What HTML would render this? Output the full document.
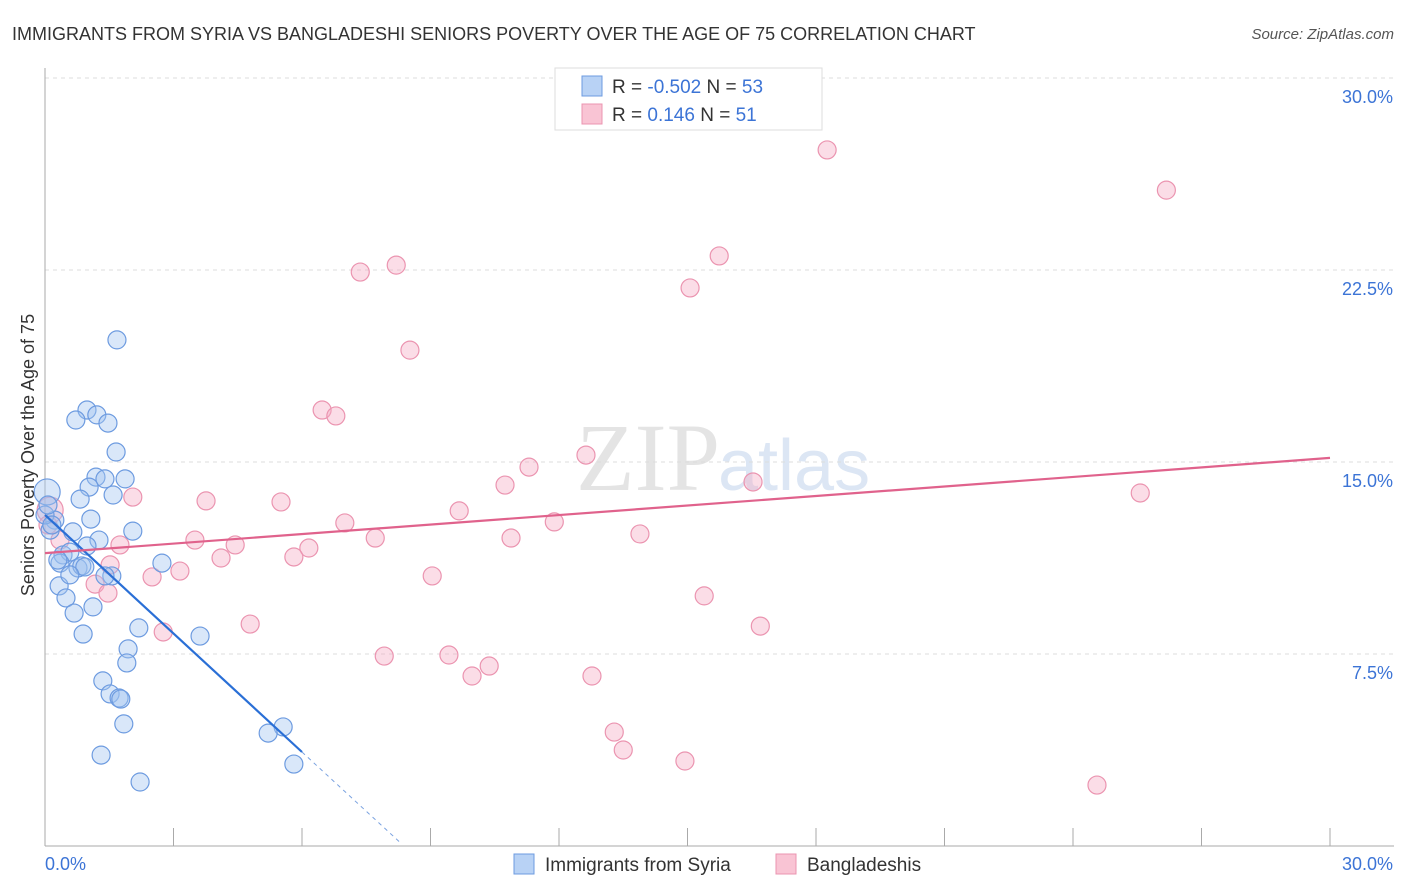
<!DOCTYPE html>
<html><head><meta charset="utf-8"><style>
body{margin:0;background:#fff;font-family:"Liberation Sans",sans-serif;}
svg{display:block}
</style></head><body>
<svg id="chart" width="1406" height="892">
<text x="12" y="40" font-size="18" fill="#333">IMMIGRANTS FROM SYRIA VS BANGLADESHI SENIORS POVERTY OVER THE AGE OF 75 CORRELATION CHART</text>
<text x="1394" y="39" font-size="15" fill="#555" text-anchor="end" font-style="italic">Source: ZipAtlas.com</text>
<text x="720" y="490" font-size="96" fill="#e4e4e4" text-anchor="end" font-family="Liberation Serif,serif">ZIP</text>
<text x="718" y="490" font-size="72" fill="#dce6f4">atlas</text>
<g id="grid"></g><g id="axes"></g><g id="marks"></g>
<text transform="translate(34,455) rotate(-90)" font-size="18" fill="#333" text-anchor="middle">Seniors Poverty Over the Age of 75</text>
<g>
<rect x="555" y="68" width="267" height="62" fill="#fff" stroke="#ddd"/>
<rect x="582" y="76" width="20" height="20" fill="#b8d2f5" stroke="#6d9be0"/>
<rect x="582" y="104" width="20" height="20" fill="#f9c4d4" stroke="#eb94b0"/>
<text x="612" y="93" font-size="19" fill="#333">R = <tspan fill="#3c74d6">-0.502</tspan>   N = <tspan fill="#3c74d6">53</tspan></text>
<text x="612" y="121" font-size="19" fill="#333">R =   <tspan fill="#3c74d6">0.146</tspan>   N =  <tspan fill="#3c74d6">51</tspan></text>
</g>
<g>
<rect x="514" y="854" width="20" height="20" fill="#b8d2f5" stroke="#6d9be0"/>
<text x="545" y="871" font-size="19" fill="#333">Immigrants from Syria</text>
<rect x="776" y="854" width="20" height="20" fill="#f9c4d4" stroke="#eb94b0"/>
<text x="807" y="871" font-size="19" fill="#333">Bangladeshis</text>
</g>
</svg>
<script>
const yTicks=[7.5,15,22.5,30];
const yTickLabels=["7.5%","15.0%","22.5%","30.0%"];
const xTickLabels=["0.0%","30.0%"];
const syriaX=[1.68,0.98,0.72,1.21,1.47,1.66,1.19,1.87,1.40,1.03,0.82,1.59,0.05,1.07,2.05,0.23,0.12,0.65,1.26,0.98,0.42,0.58,0.35,0.77,0.86,1.56,1.40,2.73,0.33,0.49,1.12,0.68,0.89,2.19,3.62,1.94,1.91,1.35,1.52,1.73,1.77,1.84,5.56,5.21,1.31,5.81,2.22,0.0,0.16,0.07,0.30,0.93,0.58];
const syriaY=[19.77,17.03,16.64,16.84,16.52,15.39,14.41,14.34,14.34,14.02,13.55,13.71,13.83,12.77,12.30,12.73,12.34,12.27,11.95,11.72,11.37,11.48,11.05,10.86,10.94,10.55,10.55,11.05,10.16,9.69,9.34,9.10,8.28,8.52,8.20,7.70,7.15,6.45,5.94,5.78,5.74,4.77,4.65,4.41,3.55,3.20,2.50,12.93,12.54,13.32,11.17,10.90,10.59];
const bangX=[18.26,26.18,15.74,8.20,7.36,15.06,8.52,6.47,6.79,12.63,11.30,10.74,16.53,25.57,2.05,3.76,5.51,9.67,7.00,11.89,7.71,10.88,13.89,3.50,4.44,1.75,6.16,5.81,4.11,9.04,3.15,2.50,1.17,1.47,15.39,16.70,4.79,2.76,7.92,9.43,10.37,9.97,12.77,13.29,13.50,14.94,24.56,0.12,0.07,1.52,0.35];
const bangY=[27.19,25.62,23.05,22.69,22.42,21.80,19.37,17.03,16.80,15.27,14.80,14.10,14.22,13.79,13.63,13.48,13.44,13.09,12.62,12.66,12.03,12.03,12.19,11.95,11.76,11.76,11.64,11.29,11.25,10.55,10.74,10.51,10.23,9.88,9.77,8.59,8.67,8.36,7.42,7.46,7.03,6.64,6.64,4.45,3.75,3.32,2.38,13.12,12.54,10.98,11.95];
const syriaTrend=[12.93,-1.543]; // intercept, slope
const bangTrend=[11.44,0.124];
const syriaSolidEnd=6.0, syriaDashEnd=8.29;

const NS="http://www.w3.org/2000/svg";
const X=v=>45+v/30*1285, Y=v=>846-v/30*768;
function mk(tag,attrs,parent){const e=document.createElementNS(NS,tag);for(const k in attrs)e.setAttribute(k,attrs[k]);parent.appendChild(e);return e;}
const grid=document.getElementById('grid'),axes=document.getElementById('axes'),marks=document.getElementById('marks');
yTicks.forEach((t,i)=>{
 const l=mk('line',{x1:45,x2:1394,y1:Y(t),y2:Y(t),stroke:'#ddd','stroke-dasharray':'4,4'},grid);
 
 
 const tx=mk('text',{x:1393,y:Y(t)+25,'font-size':18,fill:'#3c74d6','text-anchor':'end'},axes);
 tx.textContent=yTickLabels[i];
 
 
});
mk('line',{x1:45,x2:45,y1:68,y2:846,stroke:'#aaa'},axes);
mk('line',{x1:45,x2:1394,y1:846,y2:846,stroke:'#aaa'},axes);
for(let i=0;i<=10;i++){const t=mk('line',{x1:X(i*3),x2:X(i*3),y1:828,y2:846,stroke:'#aaa'},axes);
 
 }
const xl0=mk('text',{x:45,y:870,'font-size':18,fill:'#3c74d6'},axes);xl0.textContent=xTickLabels[0];


const xl1=mk('text',{x:1393,y:870,'font-size':18,fill:'#3c74d6','text-anchor':'end'},axes);xl1.textContent=xTickLabels[1];


bangX.forEach((v,i)=>{const c=mk('circle',{cx:X(v),cy:Y(bangY[i]),r:(i==47?13:9),fill:'rgba(245,170,195,0.4)',stroke:'#eb94b0','stroke-width':1.2},marks);
 
 });
syriaX.forEach((v,i)=>{const c=mk('circle',{cx:X(v),cy:Y(syriaY[i]),r:(i==12?13:9),fill:'rgba(160,195,240,0.4)',stroke:'#6d9be0','stroke-width':1.2},marks);
 
 });
const f=(t,x)=>t[0]+t[1]*x;
const sl=mk('line',{x1:X(0),y1:Y(f(syriaTrend,0)),x2:X(syriaSolidEnd),y2:Y(f(syriaTrend,syriaSolidEnd)),stroke:'#2a6fd6','stroke-width':2.2},marks);


const sd=mk('line',{x1:X(syriaSolidEnd),y1:Y(f(syriaTrend,syriaSolidEnd)),x2:X(syriaDashEnd),y2:Y(f(syriaTrend,syriaDashEnd)),stroke:'#7aa2e0','stroke-width':1,'stroke-dasharray':'4,4'},marks);


const bl=mk('line',{x1:X(0),y1:Y(f(bangTrend,0)),x2:X(30),y2:Y(f(bangTrend,30)),stroke:'#e0628c','stroke-width':2.2},marks);


</script>
</body></html>
